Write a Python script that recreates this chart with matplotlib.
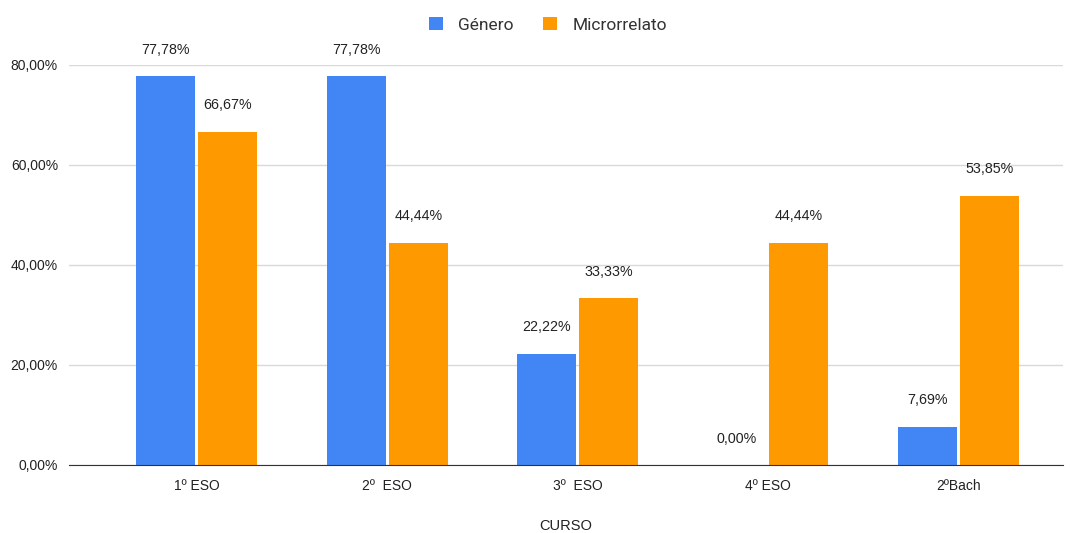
import matplotlib
matplotlib.use("Agg")
import matplotlib.pyplot as plt
import numpy as np
from matplotlib.ticker import FuncFormatter

categories = ["1º ESO", "2º  ESO", "3º  ESO", "4º ESO", "2ºBach"]
genero = [77.78, 77.78, 22.22, 0.00, 7.69]
microrrelato = [66.67, 44.44, 33.33, 44.44, 53.85]
series_names = ["Género", "Microrrelato"]

BLUE, ORANGE = "#4285F4", "#FF9900"
plt.rcParams["font.family"] = ["Liberation Sans", "DejaVu Sans"]

fig = plt.figure(figsize=(10.73, 5.33), dpi=100)
ax = fig.add_axes([69 / 1073, 1 - 465 / 533, (1063 - 69) / 1073, 400 / 533])

x = np.arange(len(categories))
w = 0.31
gap = 0.008
b1 = ax.bar(x - w / 2 - gap, genero, w, color=BLUE, label=series_names[0], zorder=3)
b2 = ax.bar(x + w / 2 + gap, microrrelato, w, color=ORANGE, label=series_names[1], zorder=3)

def pct(v):
    return f"{v:.2f}%".replace(".", ",")

for bars, vals in ((b1, genero), (b2, microrrelato)):
    for r, v in zip(bars, vals):
        ax.annotate(pct(v), (r.get_x() + r.get_width() / 2, v), xytext=(0, 14),
                    textcoords="offset points", ha="center", va="bottom",
                    fontsize=10.3, color="#222222")

ax.set_xlim(-0.672, 4.551)
ax.set_ylim(0, 80)
ax.set_yticks([0, 20, 40, 60, 80])
ax.yaxis.set_major_formatter(FuncFormatter(lambda v, p: pct(v)))
ax.set_xticks(x)
ax.set_xticklabels(categories)
ax.tick_params(axis="both", length=0, labelsize=10, colors="#222222")
ax.tick_params(axis="x", pad=10)
ax.tick_params(axis="y", pad=8)
ax.grid(axis="y", color="#d9d9d9", lw=1, zorder=0)
for s in ("top", "right", "left"):
    ax.spines[s].set_visible(False)
ax.spines["bottom"].set_color("#333333")
ax.spines["bottom"].set_zorder(4)
ax.set_xlabel("CURSO", fontsize=10.5, color="#222222", labelpad=19)

fig.legend(loc="center", bbox_to_anchor=(548 / 1073, 1 - 25 / 533), ncol=2,
           frameon=False, handlelength=0.8, handleheight=0.8, handletextpad=0.9,
           columnspacing=1.7, prop={"family": "Roboto", "size": 12.5},
           labelcolor="#333333")

fig.savefig("out.png", dpi=100, facecolor="white")
